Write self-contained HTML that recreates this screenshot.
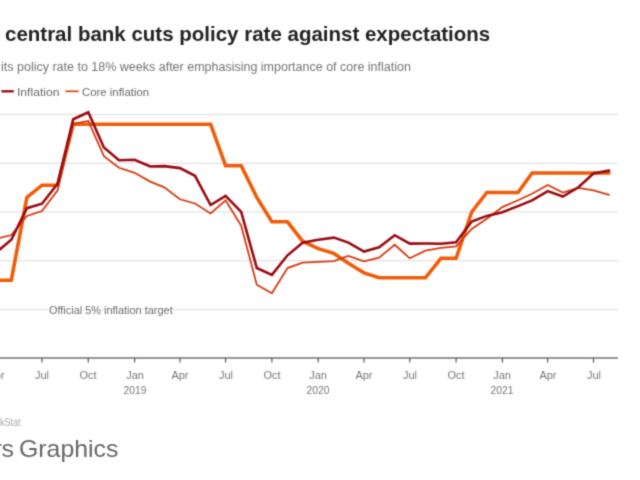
<!DOCTYPE html>
<html><head><meta charset="utf-8"><title>Chart</title>
<style>
html,body{margin:0;padding:0;background:#fff;}
body{width:640px;height:480px;overflow:hidden;position:relative;font-family:"Liberation Sans",sans-serif;}
.t{position:absolute;white-space:nowrap;transform-origin:0 0;}
#title{left:5.1px;top:22.4px;font-size:21px;font-weight:bold;color:#222;line-height:24px;transform:scaleX(0.976);}
#title span.pre{position:absolute;right:100%;top:0;padding-right:6px}
#sub{left:1px;top:58.7px;font-size:12.5px;color:#747474;line-height:16px;}
#sub span.pre{position:absolute;right:100%;top:0;padding-right:3px}
.leg{top:85.1px;font-size:11.5px;color:#6a6a6a;line-height:14px;}
.xl{position:absolute;top:367.7px;width:60px;text-align:center;font-size:11.8px;color:#787878;line-height:14px;transform:scaleX(0.93);}
.xl.yr{top:383.1px;transform:scaleX(0.875);}
#ann{left:48.5px;top:303.3px;font-size:11.3px;transform:scaleX(0.967);text-shadow:-1px 0 0 #fff,1px 0 0 #fff,0 -1px 0 #fff,0 1px 0 #fff,-1px -1px 0 #fff,1px 1px 0 #fff,-1px 1px 0 #fff,1px -1px 0 #fff;color:#6a6a6a;line-height:14px;}
#src{left:-0.3px;top:415.9px;font-size:10.2px;color:#a8a8a8;transform:scaleX(0.885);line-height:14px;}
#src span.pre{position:absolute;right:100%;top:0;}
#rg{left:19.2px;top:434.9px;font-size:24px;color:#676767;line-height:28px;transform:scaleX(1.035);}
#rg span.pre{position:absolute;right:100%;top:0;padding-right:5.2px;letter-spacing:-0.3px}
svg{position:absolute;left:0;top:0;}
#w{position:absolute;left:0;top:0;width:640px;height:480px;overflow:hidden;filter:url(#soft);}
</style></head><body><div id="w">
<svg width="640" height="480" viewBox="0 0 640 480">
<defs><filter id="soft" x="0" y="0" width="100%" height="100%" color-interpolation-filters="sRGB"><feConvolveMatrix order="3" kernelMatrix="0.03 0.11 0.03 0.11 0.44 0.11 0.03 0.11 0.03" edgeMode="duplicate" preserveAlpha="false"/></filter></defs>
<g stroke="#dcdcdc" stroke-width="1.2"><line x1="-5" x2="617.9" y1="309.50" y2="309.50"/><line x1="-5" x2="617.9" y1="260.75" y2="260.75"/><line x1="-5" x2="617.9" y1="212.00" y2="212.00"/><line x1="-5" x2="617.9" y1="163.25" y2="163.25"/><line x1="-5" x2="617.9" y1="114.50" y2="114.50"/></g>
<line x1="-5" x2="617.9" y1="358" y2="358" stroke="#707070" stroke-width="1.35"/>
<g stroke="#505050" stroke-width="1.15"><line x1="-3.8" y1="358" x2="-3.8" y2="362.6"/><line x1="42.0" y1="358" x2="42.0" y2="362.6"/><line x1="88.3" y1="358" x2="88.3" y2="362.6"/><line x1="134.6" y1="358" x2="134.6" y2="362.6"/><line x1="179.9" y1="358" x2="179.9" y2="362.6"/><line x1="225.6" y1="358" x2="225.6" y2="362.6"/><line x1="271.9" y1="358" x2="271.9" y2="362.6"/><line x1="318.2" y1="358" x2="318.2" y2="362.6"/><line x1="364.0" y1="358" x2="364.0" y2="362.6"/><line x1="409.8" y1="358" x2="409.8" y2="362.6"/><line x1="456.1" y1="358" x2="456.1" y2="362.6"/><line x1="502.4" y1="358" x2="502.4" y2="362.6"/><line x1="547.7" y1="358" x2="547.7" y2="362.6"/><line x1="593.5" y1="358" x2="593.5" y2="362.6"/></g>
<g fill="none" stroke-linejoin="miter" stroke-linecap="round">
<path d="M-19.4,280.2 L-3.8,280.2 L11.3,280.2 L26.9,197.4 L42.0,185.2 L57.6,185.2 L73.2,124.2 L88.3,124.2 L103.9,124.2 L119.0,124.2 L134.6,124.2 L150.2,124.2 L164.3,124.2 L179.9,124.2 L195.0,124.2 L210.6,124.2 L225.6,165.7 L241.2,165.7 L256.8,197.4 L271.9,221.8 L287.5,221.8 L302.6,241.2 L318.2,248.6 L333.8,253.4 L348.4,263.2 L364.0,272.9 L379.1,277.8 L394.7,277.8 L409.8,277.8 L425.4,277.8 L441.0,258.3 L456.1,258.3 L471.7,212.0 L486.8,192.5 L502.4,192.5 L518.0,192.5 L532.1,173.0 L547.7,173.0 L562.8,173.0 L578.4,173.0 L593.5,173.0 L609.0,173.0" stroke="#f05c08" stroke-width="3.6"/>
<path d="M-19.4,246.7 L-3.8,238.9 L11.3,235.0 L26.9,215.9 L42.0,211.0 L57.6,190.4 L73.2,123.8 L88.3,120.9 L103.9,156.2 L119.0,167.8 L134.6,172.8 L150.2,181.6 L164.3,187.3 L179.9,199.3 L195.0,203.5 L210.6,213.4 L225.6,200.3 L241.2,225.7 L256.8,284.7 L271.9,293.2 L287.5,268.1 L302.6,262.6 L318.2,261.9 L333.8,261.1 L348.4,256.0 L364.0,261.4 L379.1,257.6 L394.7,244.8 L409.8,258.3 L425.4,250.7 L441.0,247.9 L456.1,246.3 L471.7,229.0 L486.8,218.7 L502.4,207.1 L518.0,200.2 L532.1,193.7 L547.7,185.0 L562.8,192.6 L578.4,187.9 L593.5,190.4 L609.0,194.8" stroke="#d63a10" stroke-width="1.8"/>
<path d="M-19.4,258.5 L-3.8,252.5 L11.3,239.8 L26.9,208.2 L42.0,203.7 L57.6,183.7 L73.2,119.2 L88.3,112.2 L103.9,147.5 L119.0,160.3 L134.6,159.8 L150.2,166.5 L164.3,166.1 L179.9,168.1 L195.0,175.8 L210.6,205.0 L225.6,195.9 L241.2,211.9 L256.8,268.0 L271.9,274.9 L287.5,255.3 L302.6,242.8 L318.2,239.8 L333.8,237.6 L348.4,242.6 L364.0,251.6 L379.1,247.2 L394.7,235.2 L409.8,243.6 L425.4,243.5 L441.0,243.7 L456.1,242.3 L471.7,221.5 L486.8,215.9 L502.4,212.3 L518.0,206.1 L532.1,200.4 L547.7,191.1 L562.8,196.5 L578.4,187.3 L593.5,173.5 L609.0,170.6" stroke="#980b11" stroke-width="2.6"/>
</g>
<line x1="1.4" x2="13.8" y1="91.3" y2="91.3" stroke="#9a0f18" stroke-width="2.4"/>
<line x1="65.5" x2="78.7" y1="91.3" y2="91.3" stroke="#dc4a25" stroke-width="1.8"/>
</svg>
<div class="t" id="title"><span class="pre">Turkey's</span>central bank cuts policy rate against expectations</div>
<div class="t" id="sub"><span class="pre">Turkey's central bank cut</span>its policy rate to 18% weeks after emphasising importance of core inflation</div>
<div class="t leg" style="left:-62px">Policy rate</div>
<div class="t leg" style="left:17.1px;transform:scaleX(1.055)">Inflation</div>
<div class="t leg" style="left:81.8px;transform:scaleX(0.99)">Core inflation</div>
<div class="t" id="ann">Official 5% inflation target</div>
<div class="xl" style="left:-33.8px">Apr</div><div class="xl" style="left:12.0px">Jul</div><div class="xl" style="left:58.3px">Oct</div><div class="xl" style="left:104.6px">Jan</div><div class="xl yr" style="left:104.6px">2019</div><div class="xl" style="left:149.9px">Apr</div><div class="xl" style="left:195.6px">Jul</div><div class="xl" style="left:241.9px">Oct</div><div class="xl" style="left:288.2px">Jan</div><div class="xl yr" style="left:288.2px">2020</div><div class="xl" style="left:334.0px">Apr</div><div class="xl" style="left:379.8px">Jul</div><div class="xl" style="left:426.1px">Oct</div><div class="xl" style="left:472.4px">Jan</div><div class="xl yr" style="left:472.4px">2021</div><div class="xl" style="left:517.7px">Apr</div><div class="xl" style="left:563.5px">Jul</div>
<div class="t" id="src"><span class="pre">Source: Refinitiv Datastream, Tur</span>kStat</div>
<div class="t" id="rg"><span class="pre">Reuters</span>Graphics</div>
</div></body></html>
